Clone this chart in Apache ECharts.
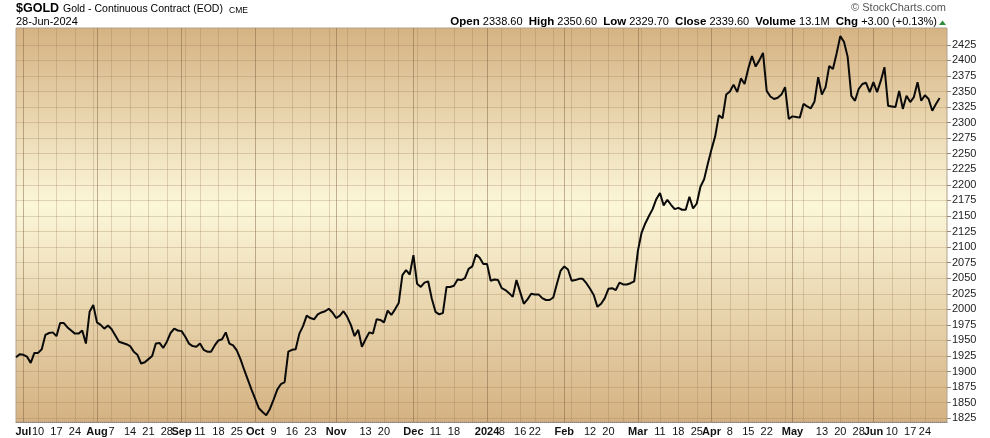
<!DOCTYPE html>
<html><head><meta charset="utf-8">
<script src="https://cdn.jsdelivr.net/npm/echarts@6/dist/echarts.min.js"></script>
<style>html,body{margin:0;padding:0;background:#fff}#c{width:990px;height:438px}</style>
</head><body><div id="c"></div>
<script>
// ---- data ----
const startDate = '2023-06-29';
const endDate = '2024-07-02';
const holidays = ['2023-07-04','2023-09-04','2023-11-23','2023-12-25','2024-01-01','2024-01-15','2024-02-19','2024-03-29','2024-05-27','2024-06-19'];

// daily closes from 2023-06-29 to 2024-06-28
const closes = [
1923,1928,1927,1924,1914,1930,1930,1936,1959,1962,1963,1957,1978,1978,1971,1966,1961,1961,1966,1945,1996,2007,
1979,1975,1969,1974,1968,1958,1948,1946,1944,1941,1932,1927,1913,1915,1920,1925,1945,1946,1938,1948,1962,1969,1966,
1965,1956,1945,1941,1940,1945,1935,1932,1932,1942,1950,1952,1963,1945,1942,1934,1920,1903,1887,1871,
1856,1841,1835,1830,1840,1855,1871,1880,1883,1932,1935,1936,1961,1973,1990,1986,1984,1992,1995,1997,2001,1995,
1986,1990,1997,1988,1975,1957,1967,1940,1952,1963,1961,1984,1983,1979,1998,1991,2000,2010,2055,2063,2056,
2087,2041,2036,2043,2045,2017,1996,1992,1994,2036,2036,2038,2048,2047,2050,2065,2069,2088,2083,2073,
2073,2046,2048,2047,2034,2031,2026,2020,2047,2028,2009,2016,2025,2024,2024,2018,2015,2015,2019,2041,2062,
2069,2064,2046,2047,2049,2049,2042,2033,2023,2004,2009,2018,2033,2034,2031,2043,2040,2040,2042,2045,
2094,2123,2138,2150,2161,2177,2187,2167,2176,2168,2161,2163,2160,2160,2181,2162,2170,2197,2209,2234,
2257,2278,2312,2307,2345,2350,2361,2349,2371,2362,2387,2407,2390,2400,2412,2351,2342,2338,2340,2345,2357,2306,
2310,2309,2308,2330,2326,2323,2334,2373,2345,2357,2391,2386,2411,2439,2430,2406,2343,2335,2354,2362,2364,2349,
2365,2349,2367,2389,2327,2326,2325,2351,2322,2343,2333,2341,2365,2335,2344,2338,2319,2330,2339.6
];

const tickDates = ['2023-07-03','2023-07-10','2023-07-17','2023-07-24','2023-08-01','2023-08-07','2023-08-14','2023-08-21','2023-08-28','2023-09-01','2023-09-11','2023-09-18','2023-09-25','2023-10-02','2023-10-09','2023-10-16','2023-10-23','2023-11-01','2023-11-13','2023-11-20','2023-12-01','2023-12-11','2023-12-18','2024-01-02','2024-01-08','2024-01-16','2024-01-22','2024-02-01','2024-02-12','2024-02-20','2024-03-01','2024-03-11','2024-03-18','2024-03-25','2024-04-01','2024-04-08','2024-04-15','2024-04-22','2024-05-01','2024-05-13','2024-05-20','2024-05-28','2024-06-03','2024-06-10','2024-06-17','2024-06-24'];
const tickTexts = ['Jul','10','17','24','Aug','7','14','21','28','Sep','11','18','25','Oct','9','16','23','Nov','13','20','Dec','11','18','2024','8','16','22','Feb','12','20','Mar','11','18','25','Apr','8','15','22','May','13','20','28','Jun','10','17','24'];
const boldTexts = ['Jul','Aug','Sep','Oct','Nov','Dec','2024','Feb','Mar','Apr','May','Jun'];

const monthLineDates = ['2023-07-03','2023-08-01','2023-09-01','2023-10-02','2023-11-01','2023-12-01','2024-01-02','2024-02-01','2024-03-01','2024-04-01','2024-05-01','2024-06-03'];
const weekLineDates = ['2023-07-10','2023-07-17','2023-07-24','2023-07-31','2023-08-07','2023-08-14','2023-08-21','2023-08-28','2023-09-05','2023-09-11','2023-09-18','2023-09-25','2023-10-09','2023-10-16','2023-10-23','2023-10-30','2023-11-06','2023-11-13','2023-11-20','2023-11-27','2023-12-04','2023-12-11','2023-12-18','2023-12-26','2024-01-08','2024-01-16','2024-01-22','2024-01-29','2024-02-05','2024-02-12','2024-02-20','2024-02-26','2024-03-04','2024-03-11','2024-03-18','2024-03-25','2024-04-08','2024-04-15','2024-04-22','2024-04-29','2024-05-06','2024-05-13','2024-05-20','2024-05-28','2024-06-10','2024-06-17','2024-06-24'];

const yTicks = [1825,1850,1875,1900,1925,1950,1975,2000,2025,2050,2075,2100,2125,2150,2175,2200,2225,2250,2275,2300,2325,2350,2375,2400,2425];

// ---- build trading-day categories ----
function tradingDays(a, b, skip) {
  const out = [];
  const s = new Set(skip);
  let d = new Date(a + 'T00:00:00Z');
  const e = new Date(b + 'T00:00:00Z');
  while (d <= e) {
    const wd = d.getUTCDay();
    const iso = d.toISOString().slice(0, 10);
    if (wd !== 0 && wd !== 6 && !s.has(iso)) out.push(iso);
    d = new Date(d.getTime() + 86400000);
  }
  return out;
}
const dates = tradingDays(startDate, endDate, holidays);
const labelMap = {};
tickDates.forEach((d, i) => labelMap[d] = tickTexts[i]);
const monthSet = new Set(monthLineDates);
const weekSet = new Set(weekLineDates);
const boldSet = new Set(boldTexts);

const FONT = '"Liberation Sans", Arial, sans-serif';
const chart = echarts.init(document.getElementById('c'), null, {renderer: 'canvas'});
chart.setOption({
  animation: false,
  backgroundColor: '#ffffff',
  grid: {
    left: 16, right: 43, top: 28, bottom: 16,
    show: true,
    borderColor: '#b3a28c',
    borderWidth: 1,
    backgroundColor: {
      type: 'linear', x: 0, y: 0, x2: 0, y2: 1,
      colorStops: [
        {offset: 0, color: '#d5b282'},
        {offset: 0.45, color: '#fcf7d9'},
        {offset: 1, color: '#d4b181'}
      ]
    }
  },
  xAxis: [{
    type: 'category',
    data: dates,
    boundaryGap: false,
    axisLine: {show: true, lineStyle: {color: '#8c7f70', type: 'dotted', width: 1}},
    axisTick: {show: false},
    axisLabel: {
      interval: (idx, val) => labelMap[val] !== undefined,
      formatter: (val) => {
        const t = labelMap[val];
        if (t === undefined) return '';
        return boldSet.has(t) ? '{b|' + t + '}' : t;
      },
      margin: 4,
      color: '#111',
      fontSize: 11,
      fontFamily: FONT,
      rich: {b: {fontWeight: 'bold', fontSize: 11, fontFamily: FONT, color: '#111'}}
    },
    splitLine: {
      show: true,
      interval: (idx, val) => weekSet.has(val),
      lineStyle: {color: 'rgba(150,120,85,0.28)', width: 1}
    }
  }, {
    type: 'category',
    data: dates,
    boundaryGap: false,
    gridIndex: 0,
    position: 'bottom',
    axisLine: {show: false},
    axisTick: {show: false},
    axisLabel: {show: false},
    splitLine: {
      show: true,
      interval: (idx, val) => monthSet.has(val),
      lineStyle: {color: 'rgba(120,92,60,0.45)', width: 1}
    }
  }],
  yAxis: {
    type: 'value',
    position: 'right',
    min: 1819,
    max: 2452,
    axisLine: {show: false},
    axisTick: {show: true, length: 4, customValues: yTicks, lineStyle: {color: '#9a8a78'}},
    axisLabel: {customValues: yTicks, formatter: (v) => String(v), margin: 5, color: '#222', fontSize: 11, fontFamily: FONT},
    splitLine: {show: true, lineStyle: {color: 'rgba(150,120,85,0.28)', width: 1}}
  },
  series: [{
    type: 'line',
    xAxisIndex: 0,
    data: closes,
    symbol: 'none',
    lineStyle: {color: '#0a0a0a', width: 2},
    clip: true
  }],
  graphic: [
    {type: 'text', left: 16, top: 2, style: {text: '$GOLD', font: 'bold 12.5px ' + FONT, fill: '#000'}},
    {type: 'text', left: 63, top: 4, style: {text: 'Gold - Continuous Contract (EOD)', font: '10.5px ' + FONT, fill: '#000'}},
    {type: 'text', left: 229, top: 6, style: {text: 'CME', font: '8.5px ' + FONT, fill: '#000'}},
    {type: 'text', left: 16, top: 16, style: {text: '28-Jun-2024', font: '11px ' + FONT, fill: '#000'}},
    {type: 'text', right: 44, top: 2, style: {text: '\u00a9 StockCharts.com', font: '11px ' + FONT, fill: '#555'}},
    {type: 'text', right: 53, top: 16, style: {
      text: '{b|Open} 2338.60  {b|High} 2350.60  {b|Low} 2329.70  {b|Close} 2339.60  {b|Volume} 13.1M  {b|Chg} +3.00 (+0.13%)',
      font: '11px ' + FONT, fill: '#000',
      rich: {b: {font: 'bold 11.5px ' + FONT, fill: '#000'}}
    }},
    {type: 'polygon', shape: {points: [[939, 25], [946, 25], [942.5, 20.5]]}, style: {fill: '#2e8b3a'}}
  ]
});
</script>
</body></html>
